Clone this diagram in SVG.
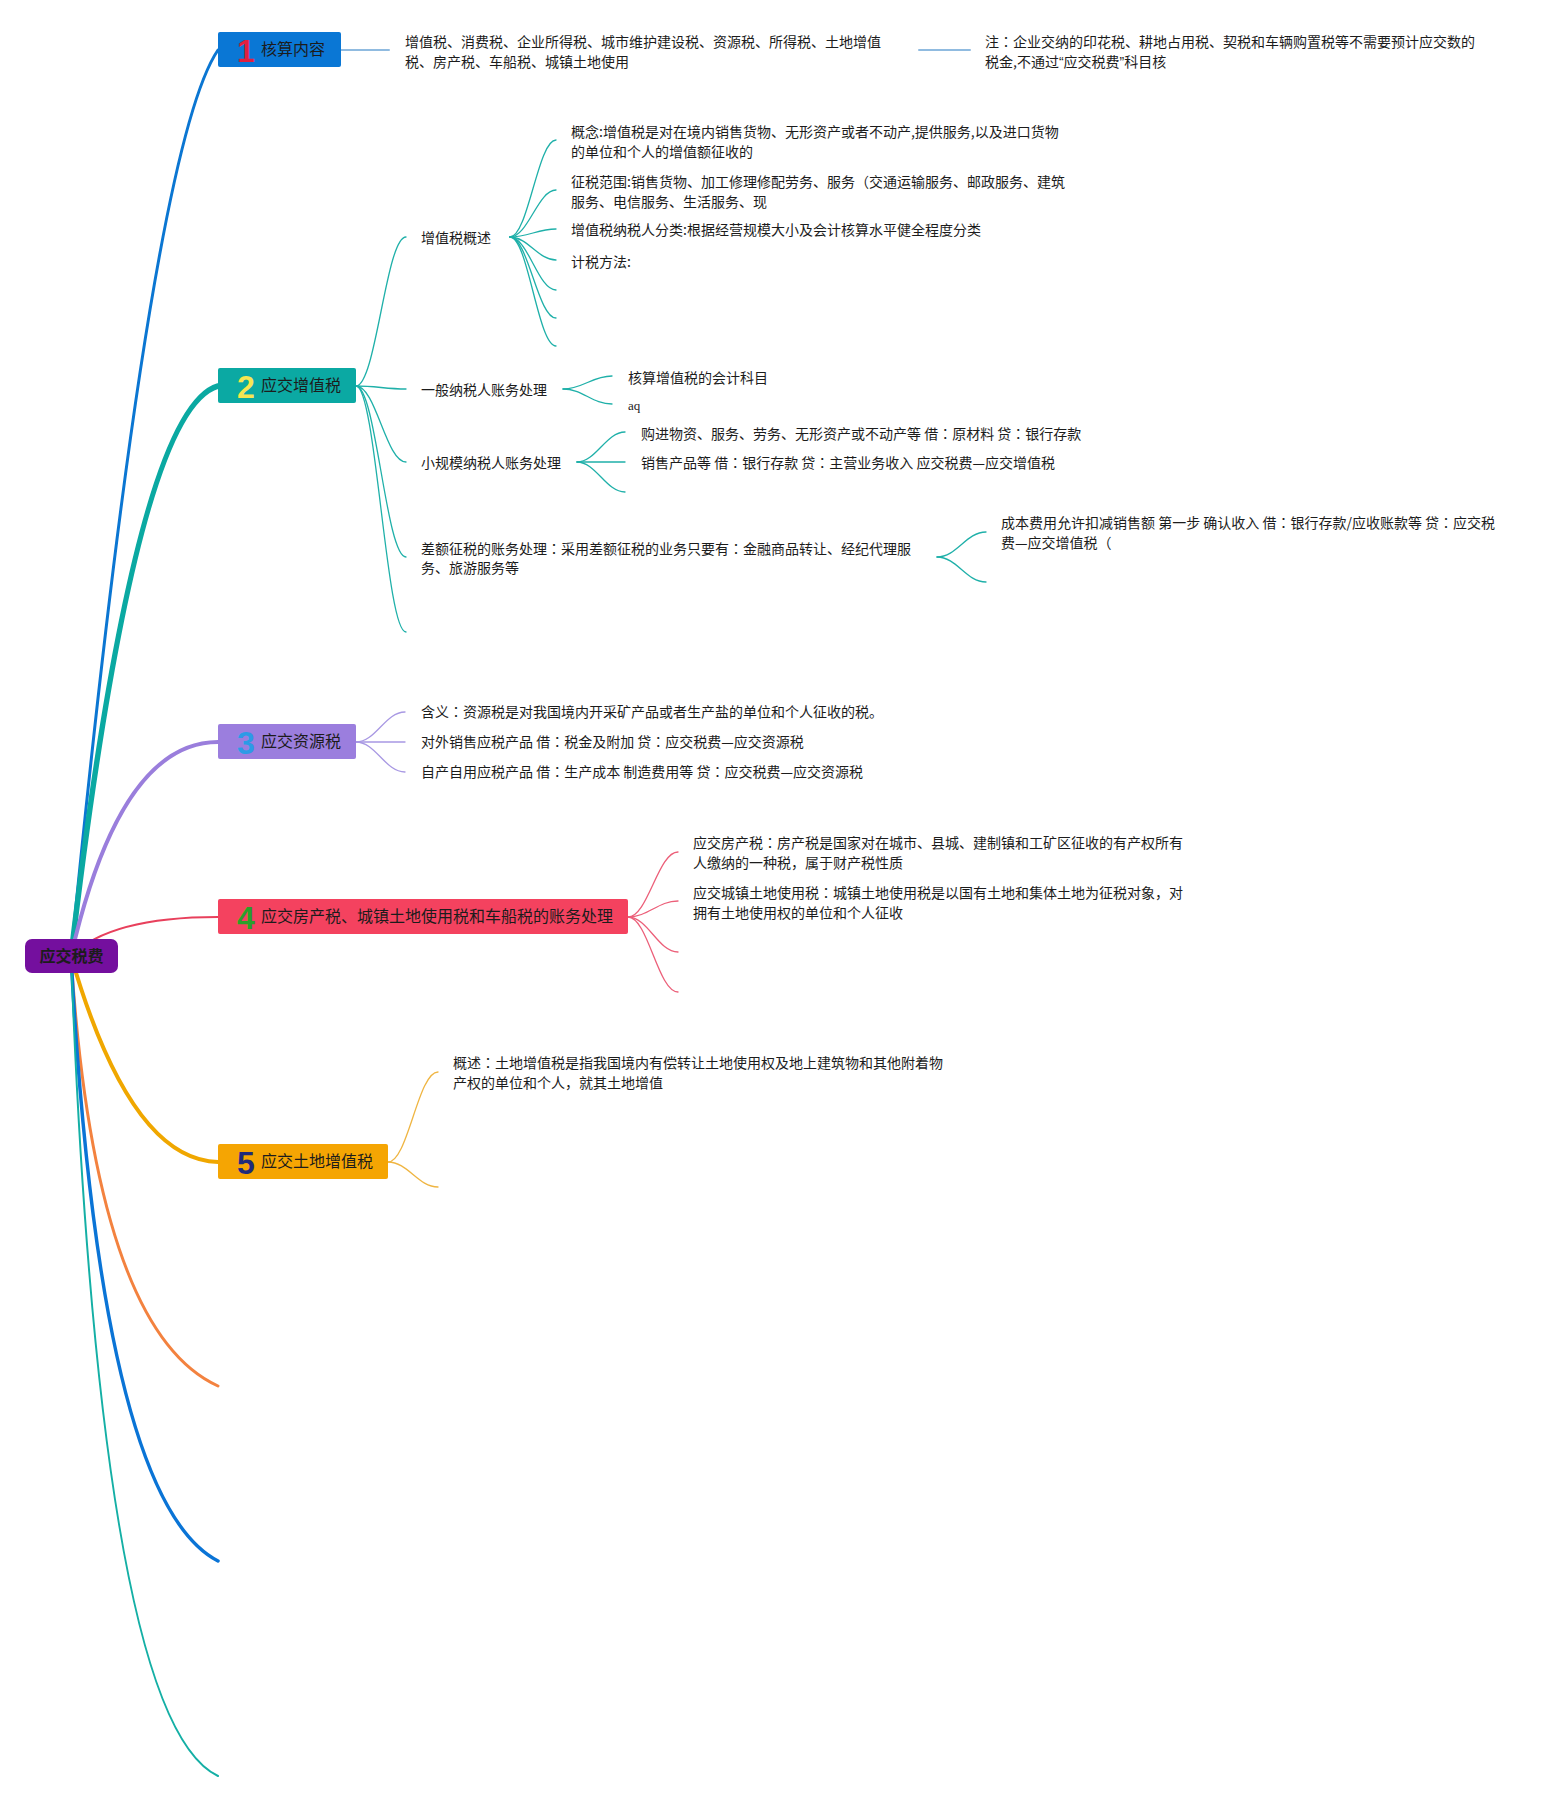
<svg xmlns="http://www.w3.org/2000/svg" width="1561" height="1802" viewBox="0 0 1561 1802">
<style>
text{font-family:"Noto Sans CJK SC","Liberation Sans",sans-serif;fill:#1c1c1c}
.t{font-size:14px}
.lbl{font-size:16px}
.k{font-family:"Noto Sans CJK JP","Noto Sans CJK SC",sans-serif}
.q{font-family:"Liberation Sans",sans-serif}
.num{font-family:"Liberation Sans","Noto Sans CJK SC",sans-serif;font-size:32px;font-weight:bold;text-anchor:middle}
.root{font-size:16px;font-weight:bold;text-anchor:middle}
.c2{fill:none;stroke:#1fb0a9;stroke-width:1.3}
.c3{fill:none;stroke:#a898e3;stroke-width:1.3}
.c4{fill:none;stroke:#ec5f79;stroke-width:1.3}
.c5{fill:none;stroke:#efb542;stroke-width:1.3}
.c1{fill:none;stroke:#90bbe0;stroke-width:2}
</style>
<rect width="1561" height="1802" fill="#ffffff"/>
<g id="connectors" fill="none" stroke-linecap="round">
  <path d="M71 956 Q150 150 218 50" stroke="#0b76d2" stroke-width="3"/>
  <path d="M71 956 Q135 410 218 386" stroke="#0aa9a2" stroke-width="5.5"/>
  <path d="M71 956 Q120 742 218 742" stroke="#9a7edc" stroke-width="4"/>
  <path d="M71 956 Q110 917 218 917" stroke="#e8405c" stroke-width="2"/>
  <path d="M71 956 Q130 1160 218 1162" stroke="#f0a700" stroke-width="4"/>
  <path d="M71 956 Q95 1330 218 1386" stroke="#f3823f" stroke-width="3"/>
  <path d="M71 956 Q100 1500 218 1561" stroke="#0a74d6" stroke-width="3.5"/>
  <path d="M71 956 Q100 1720 218 1776" stroke="#14afa5" stroke-width="2"/>
  <line class="c1" x1="340" y1="50" x2="389" y2="50"/>
  <line class="c1" x1="919" y1="50" x2="970" y2="50"/>
  <path class="c2" d="M356 386 C376 386 386 237 406 237"/>
  <path class="c2" d="M356 386 C376 386 386 389 406 389"/>
  <path class="c2" d="M356 386 C376 386 386 462 406 462"/>
  <path class="c2" d="M356 386 C376 386 386 557 406 557"/>
  <path class="c2" d="M356 386 C376 386 386 632 406 632"/>
  <path class="c2" d="M510 237 C528 237 538 140 556 140"/>
  <path class="c2" d="M510 237 C528 237 538 190 556 190"/>
  <path class="c2" d="M510 237 C528 237 538 229 556 229"/>
  <path class="c2" d="M510 237 C528 237 538 260 556 260"/>
  <path class="c2" d="M510 237 C528 237 538 290 556 290"/>
  <path class="c2" d="M510 237 C528 237 538 318 556 318"/>
  <path class="c2" d="M510 237 C528 237 538 346 556 346"/>
  <path class="c2" d="M563 389 C583 389 592 376 612 376"/>
  <path class="c2" d="M563 389 C583 389 592 404 612 404"/>
  <path class="c2" d="M577 462 C596 462 606 432 625 432"/>
  <path class="c2" d="M577 462 L625 462" stroke-width="2"/>
  <path class="c2" d="M577 462 C596 462 606 492 625 492"/>
  <path class="c2" d="M937 557 C957 557 966 532 986 532"/>
  <path class="c2" d="M937 557 C957 557 966 582 986 582"/>
  <path class="c3" d="M356 742 C376 742 385 712 405 712"/>
  <path class="c3" d="M356 742 L405 742" stroke-width="2"/>
  <path class="c3" d="M356 742 C376 742 385 772 405 772"/>
  <path class="c4" d="M628 917 C648 917 658 852 678 852"/>
  <path class="c4" d="M628 917 C648 917 658 901 678 901"/>
  <path class="c4" d="M628 917 C648 917 658 952 678 952"/>
  <path class="c4" d="M628 917 C648 917 658 992 678 992"/>
  <path class="c5" d="M388 1162 C408 1162 418 1072 438 1072"/>
  <path class="c5" d="M388 1162 C408 1162 418 1187 438 1187"/>
</g>
<g id="root">
  <rect x="25" y="939" width="93" height="34" rx="7" fill="#740f9e"/>
  <text class="root" x="71.5" y="962">应交税费</text>
</g>
<g id="n1">
  <rect x="218" y="32" width="123" height="35" rx="2" fill="#0a77d5"/>
  <text class="num" x="246" y="62" style="fill:#e0203f">1</text>
  <text class="lbl" x="261" y="55">核算内容</text>
</g>
<g id="n1a"><text class="t" x="405" y="47">增值税、消费税、企业所得税、城市维护建设税、资源税、所得税、土地增值</text><text class="t" x="405" y="67">税、房产税、车船税、城镇土地使用</text></g>
<g id="n1b"><text class="t" x="985" y="47">注<tspan class="k">：</tspan>企业交纳的印花税、耕地占用税、契税和车辆购置税等不需要预计应交数的</text><text class="t" x="985" y="67">税金,不通过<tspan class="q">“</tspan>应交税费<tspan class="q">”</tspan>科目核</text></g>
<g id="n2">
  <rect x="218" y="368" width="138" height="35" rx="2" fill="#0ba9a3"/>
  <text class="num" x="246" y="398" style="fill:#f7e651">2</text>
  <text class="lbl" x="261" y="391">应交增值税</text>
</g>
<g id="n2a"><text class="t" x="421" y="243">增值税概述</text></g>
<g id="n2a1"><text class="t" x="571" y="137">概念:增值税是对在境内销售货物、无形资产或者不动产,提供服务,以及进口货物</text><text class="t" x="571" y="157">的单位和个人的增值额征收的</text></g>
<g id="n2a2"><text class="t" x="571" y="187">征税范围:销售货物、加工修理修配劳务、服务（交通运输服务、邮政服务、建筑</text><text class="t" x="571" y="207">服务、电信服务、生活服务、现</text></g>
<g id="n2a3"><text class="t" x="571" y="235">增值税纳税人分类:根据经营规模大小及会计核算水平健全程度分类</text></g>
<g id="n2a4"><text class="t" x="571" y="267">计税方法:</text></g>
<g id="n2b"><text class="t" x="421" y="395">一般纳税人账务处理</text></g>
<g id="n2b1"><text class="t" x="628" y="383">核算增值税的会计科目</text></g>
<g id="n2b2"><text x="628" y="410" style="font-family:'Liberation Serif',serif;font-size:13px">aq</text></g>
<g id="n2c"><text class="t" x="421" y="468">小规模纳税人账务处理</text></g>
<g id="n2c1"><text class="t" x="641" y="439">购进物资、服务、劳务、无形资产或不动产等 借<tspan class="k">：</tspan>原材料 贷<tspan class="k">：</tspan>银行存款</text></g>
<g id="n2c2"><text class="t" x="641" y="468">销售产品等 借<tspan class="k">：</tspan>银行存款 贷<tspan class="k">：</tspan>主营业务收入 应交税费—应交增值税</text></g>
<g id="n2d"><text class="t" x="421" y="554">差额征税的账务处理<tspan class="k">：</tspan>采用差额征税的业务只要有<tspan class="k">：</tspan>金融商品转让、经纪代理服</text><text class="t" x="421" y="573">务、旅游服务等</text></g>
<g id="n2d1"><text class="t" x="1001" y="528">成本费用允许扣减销售额 第一步 确认收入 借<tspan class="k">：</tspan>银行存款/应收账款等 贷<tspan class="k">：</tspan>应交税</text><text class="t" x="1001" y="548">费—应交增值税（</text></g>
<g id="n3">
  <rect x="218" y="724" width="138" height="35" rx="2" fill="#9b7ede"/>
  <text class="num" x="246" y="754" style="fill:#2c9be6">3</text>
  <text class="lbl" x="261" y="747">应交资源税</text>
</g>
<g id="n3a"><text class="t" x="421" y="717">含义<tspan class="k">：</tspan>资源税是对我国境内开采矿产品或者生产盐的单位和个人征收的税。</text></g>
<g id="n3b"><text class="t" x="421" y="747">对外销售应税产品 借<tspan class="k">：</tspan>税金及附加 贷<tspan class="k">：</tspan>应交税费—应交资源税</text></g>
<g id="n3c"><text class="t" x="421" y="777">自产自用应税产品 借<tspan class="k">：</tspan>生产成本 制造费用等 贷<tspan class="k">：</tspan>应交税费—应交资源税</text></g>
<g id="n4">
  <rect x="218" y="899" width="410" height="35" rx="2" fill="#f4425f"/>
  <text class="num" x="246" y="929" style="fill:#2aa02a">4</text>
  <text class="lbl" x="261" y="922">应交房产税、城镇土地使用税和车船税的账务处理</text>
</g>
<g id="n4a"><text class="t" x="693" y="848">应交房产税<tspan class="k">：</tspan>房产税是国家对在城市、县城、建制镇和工矿区征收的有产权所有</text><text class="t" x="693" y="868">人缴纳的一种税，属于财产税性质</text></g>
<g id="n4b"><text class="t" x="693" y="898">应交城镇土地使用税<tspan class="k">：</tspan>城镇土地使用税是以国有土地和集体土地为征税对象，对</text><text class="t" x="693" y="918">拥有土地使用权的单位和个人征收</text></g>
<g id="n5">
  <rect x="218" y="1144" width="170" height="35" rx="2" fill="#f5a503"/>
  <text class="num" x="246" y="1174" style="fill:#1f2a7a">5</text>
  <text class="lbl" x="261" y="1167">应交土地增值税</text>
</g>
<g id="n5a"><text class="t" x="453" y="1068">概述<tspan class="k">：</tspan>土地增值税是指我国境内有偿转让土地使用权及地上建筑物和其他附着物</text><text class="t" x="453" y="1088">产权的单位和个人，就其土地增值</text></g>
</svg>
